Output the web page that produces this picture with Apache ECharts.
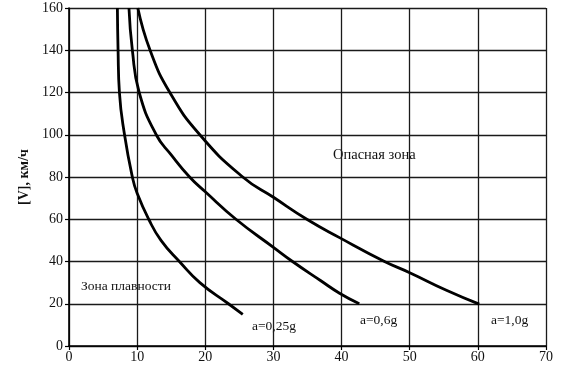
<!DOCTYPE html>
<html>
<head>
<meta charset="utf-8">
<script src="https://cdn.jsdelivr.net/npm/echarts@6/dist/echarts.min.js"></script>
<style>html,body{margin:0;padding:0;background:#fff}#c{width:568px;height:365px}</style>
</head>
<body>
<div id="c"></div>
<script>
var xTicks = [0, 10, 20, 30, 40, 50, 60, 70];
var yTicks = [0, 20, 40, 60, 80, 100, 120, 140, 160];
var seriesNames = ['a=0,25g', 'a=0,6g', 'a=1,0g'];
var curve025 = [[7.1,160],[7.2,140],[7.4,120],[8.15,100],[9.3,80],[10,72.3],[11.7,60],[13.5,50],[16.2,40],[19.2,30],[23.4,20],[25.5,15]];
var curve06 = [[8.8,160],[9.3,140],[10.3,120],[12.8,100],[15,90.5],[17.7,80],[20,73],[24.5,60],[30,46.7],[32.8,40],[36.9,31],[39.7,25],[42.6,20]];
var curve10 = [[10.1,160],[11.9,140],[14.8,120],[19.2,100],[25.5,80],[30,70.4],[34.9,60],[39.7,51.3],[46.3,40],[50,34.7],[55.3,26.5],[60.2,19.8]];
var zoneLabels = ['Зона плавности', 'Опасная зона'];
var yTitle = '[V], км/ч';

var font = "'Liberation Serif', 'DejaVu Serif', serif";
var chart = echarts.init(document.getElementById('c'));
function mk(name, data) {
  return {name: name, type: 'line', data: data, smooth: 0.5, showSymbol: false,
    lineStyle: {color: '#000', width: 2.8}, silent: true};
}
var txt = function (t, x, y, size) {
  return {type: 'text', left: x, top: y, style: {text: t, fill: '#111', font: size + 'px ' + font}};
};
chart.setOption({
  animation: false,
  backgroundColor: '#fff',
  grid: {left: 69, right: 22, top: 8, bottom: 19, containLabel: false},
  xAxis: {type: 'value', min: 0, max: 70, interval: 10,
    axisLine: {show: true, lineStyle: {color: '#000', width: 1.6}},
    axisTick: {show: true, length: 4, lineStyle: {color: '#000', width: 1.2}},
    axisLabel: {color: '#111', fontFamily: font, fontSize: 14, margin: 4},
    splitLine: {show: true, lineStyle: {color: '#1a1a1a', width: 1.3}}},
  yAxis: {type: 'value', min: 0, max: 160, interval: 20,
    name: yTitle, nameLocation: 'middle', nameGap: 38,
    nameTextStyle: {color: '#111', fontFamily: font, fontSize: 14, fontWeight: 'bold'},
    axisLine: {show: true, lineStyle: {color: '#000', width: 1.6}},
    axisTick: {show: true, length: 4, lineStyle: {color: '#000', width: 1.2}},
    axisLabel: {color: '#111', fontFamily: font, fontSize: 14, margin: 6},
    splitLine: {show: true, lineStyle: {color: '#1a1a1a', width: 1.3}}},
  series: [mk(seriesNames[0], curve025), mk(seriesNames[1], curve06), mk(seriesNames[2], curve10)],
  graphic: [
    txt(zoneLabels[0], 81, 279, 13.5),
    txt(zoneLabels[1], 333, 148, 14.5),
    txt(seriesNames[0], 252, 319, 13.5),
    txt(seriesNames[1], 360, 313, 13.5),
    txt(seriesNames[2], 491, 313, 13.5)
  ]
});
</script>
</body>
</html>
